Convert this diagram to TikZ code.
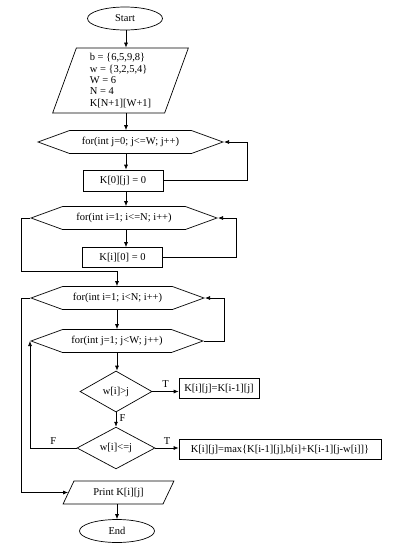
\documentclass[tikz,border=0pt]{standalone}
\usepackage{fontspec}
\setmainfont{Liberation Serif}
\usetikzlibrary{shapes.geometric,shapes.symbols,arrows.meta}

\tikzset{
  term/.style={draw, ellipse, minimum width=75pt, minimum height=23pt, inner sep=0pt},
  io/.style={draw, trapezium, trapezium stretches=true, trapezium left angle=73,
    trapezium right angle=107, inner sep=0pt},
  ioout/.style={draw, trapezium, trapezium stretches=true, trapezium left angle=57,
    trapezium right angle=123, inner sep=0pt},
  loopbox/.style={draw, signal, signal to=west and east, signal pointer angle=40,
    minimum height=23pt, inner sep=0pt},
  proc/.style={draw, rectangle, minimum width=80pt, minimum height=20pt, inner sep=2pt},
  dec/.style={draw, diamond, inner sep=0pt},
  arr/.style={-{Latex[length=5pt,width=4pt]}},
}

\begin{document}
\begin{tikzpicture}[x=1pt, y=-1pt, line width=0.7pt, font=\fontsize{10.5}{11.3}\selectfont]
\useasboundingbox (0,0) rectangle (402,550);

\coordinate (colA) at (126,0);
\coordinate (colB) at (117,0);
\coordinate (turn) at (117,271);

\node (start) [term] at (125,18.5) {Start};
\node (data) [io, minimum width=137pt, minimum height=65pt, align=left] at (120.5,80.5)
  {b = \{6,5,9,8\}\\ w = \{3,2,5,4\}\\ W = 6\\ N = 4\\ K[N+1][W+1]};
\node (loopa) [loopbox, minimum width=185pt] at (130.5,142) {for(int j=0; j<=W; j++)};
\node (inita) [proc, minimum height=21pt] at (123,180.5) {K[0][j] = 0};
\node (loopb) [loopbox, minimum width=186pt] at (124,218) {for(int i=1; i<=N; i++)};
\node (initb) [proc] at (122.5,257.5) {K[i][0] = 0};
\node (loopi) [loopbox, minimum width=173pt] at (117.5,298) {for(int i=1; i<N; i++)};
\node (loopj) [loopbox, minimum width=172pt] at (117,341) {for(int j=1; j<W; j++)};
\node (testa) [dec, minimum width=72pt, minimum height=41pt] at (116,391.5) {w[i]>j};
\node (seta) [proc] at (219,388.5) {K[i][j]=K[i-1][j]};
\node (testb) [dec, minimum width=78pt, minimum height=40pt] at (116,448) {w[i]<=j};
\node (setb) [proc, minimum width=202pt] at (280,449.5) {K[i][j]=max\{K[i-1][j],b[i]+K[i-1][j-w[i]]\}};
\node (print) [ioout, minimum width=111pt, minimum height=23pt] at (118.5,492.5) {Print K[i][j]};
\node (end) [term] at (117,531) {End};

% main column, first part
\draw[arr] (colA |- start.south) -- (colA |- data.north);
\draw[arr] (colA |- data.south) -- (colA |- loopa.north);
\draw[arr] (colA |- loopa.south) -- (colA |- inita.north);
\draw[arr] (colA |- inita.south) -- (colA |- loopb.north);
\draw[arr] (colA |- loopb.south) -- (colA |- initb.north);
\draw[arr] (inita.east) -- ++(84,0) |- (loopa.east);
\draw[arr] (initb.east) -- ++(73,0) |- (loopb.east);
\draw[arr] (loopb.west) -- ++(-9,0) |- (turn) -- (turn |- loopi.north);

% nested loops
\draw[arr] (colB |- loopi.south) -- (colB |- loopj.north);
\draw[arr] (loopj.east) -- ++(20,0) |- (loopi.east);
\draw[arr] (colB |- loopj.south) -- (colB |- testa.north);
\draw[arr] (testa.east) -- (testa.east -| seta.west) node[midway, above] {T};
\draw[arr] (testa.south) -- (testb.north) node[pos=0.4, right] {F};
\draw[arr] (testb.east) -- (testb.east -| setb.west) node[midway, above] {T};
\draw[arr] (testb.west) -| (loopj.west) node[pos=0.25, above] {F};

% output
\draw[arr] (loopi.west) -- ++(-9,0) |- (print.west);
\draw[arr] (colB |- print.south) -- (colB |- end.north);
\end{tikzpicture}
\end{document}
